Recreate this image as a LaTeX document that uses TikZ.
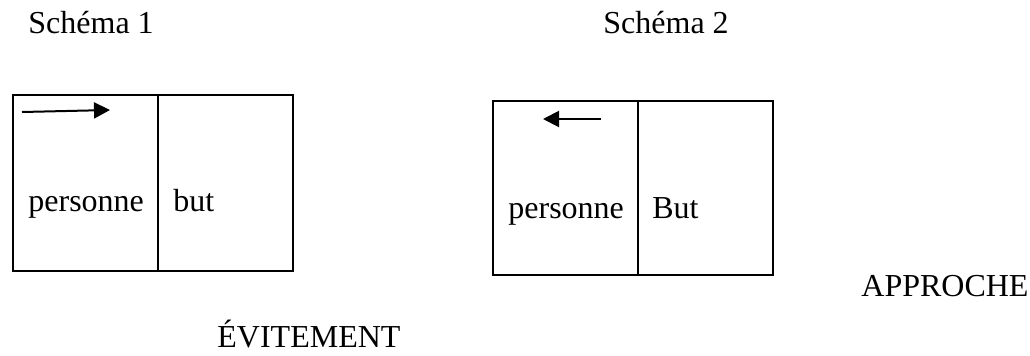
\documentclass[tikz,border=0pt]{standalone}
\usepackage{fontspec}
\setmainfont{Liberation Serif}
\usetikzlibrary{arrows.meta,positioning}
\begin{document}
\begin{tikzpicture}[x=0.5pt,y=-0.5pt,
    font=\fontsize{16}{19}\selectfont,
    cell/.style ={rectangle,draw,line width=1pt,inner sep=0pt,outer sep=0pt,anchor=north west},
    mot/.style ={inner sep=0pt,anchor=base west},
    fleche/.style ={line width=1pt,-{Triangle[length=8pt,width=8pt]}}]
    \useasboundingbox (0,0) rectangle (1030,355);
    % schema 1
    \node[mot] (titre1) at (28,33) {Schéma 1};
    \node[cell,minimum width=72.5pt,minimum height=88pt] (pers1) at (13,95) {};
    \node[cell,minimum width=67.5pt,minimum height=88pt] (but1) at (pers1.north east) {};
    \node[mot] (tp1) at (28,211) {personne};
    \node[mot] (tb1) at (173,211) {but};
    \coordinate (d1) at (22,112);
    \coordinate (f1) at (110,110);
    \draw[fleche] (d1) -- (f1);
    % schema 2
    \node[mot] (titre2) at (603,33) {Schéma 2};
    \node[cell,minimum width=72.5pt,minimum height=87pt] (pers2) at (493,101) {};
    \node[cell,minimum width=67.5pt,minimum height=87pt] (but2) at (pers2.north east) {};
    \node[mot] (tp2) at (508,218) {personne};
    \node[mot] (tb2) at (652,218) {But};
    \coordinate (d2) at (601,119);
    \coordinate (f2) at (543,119);
    \draw[fleche] (d2) -- (f2);
    % legendes
    \node[mot] (appr) at (861,296) {APPROCHE};
    \node[mot] (evit) at (217,347) {ÉVITEMENT};
  \end{tikzpicture}
\end{document}
